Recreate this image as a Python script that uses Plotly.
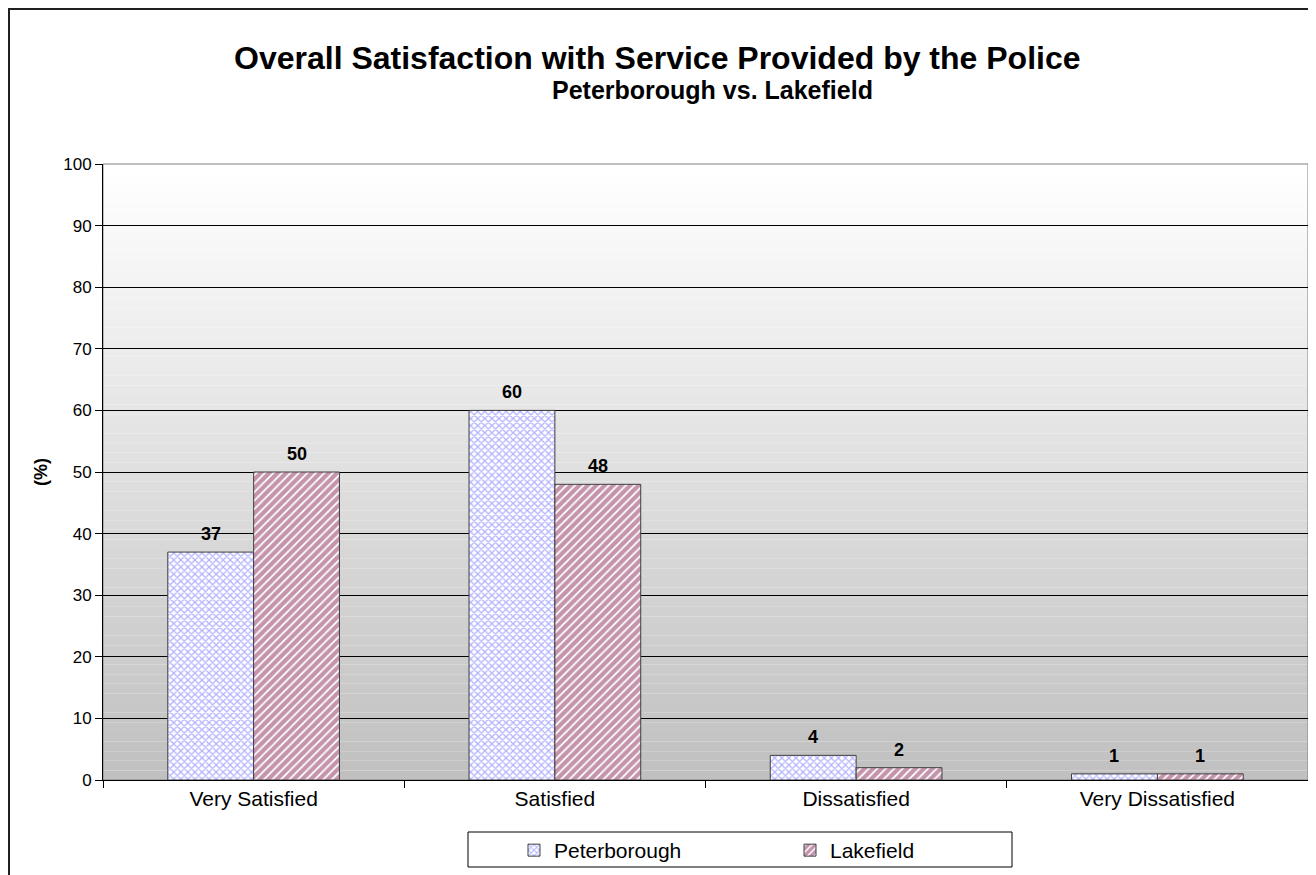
import plotly.graph_objects as go

categories = ["Very Satisfied", "Satisfied", "Dissatisfied", "Very Dissatisfied"]
peterborough = [37, 60, 4, 1]
lakefield = [50, 48, 2, 1]
y_ticks = list(range(0, 101, 10))

# the page body adds an 8px offset; lay the figure out relative to that
W, H = 1300, 867
L, R, T, B = 95, 0, 156, 95
pw, ph = W - L - R, H - T - B
REF_X0, REF_Y1 = 103, 780  # plot area in screen pixels


def px_x(p):
    return (p - REF_X0) / pw


def px_y(p):
    return (REF_Y1 - p) / ph


FONT = "Liberation Sans, Arial, sans-serif"

fig = go.Figure()
fig.add_trace(go.Bar(
    name="Peterborough", x=categories, y=peterborough,
    marker=dict(color="white", line=dict(color="#404040", width=1),
                pattern=dict(shape="x", fgcolor="#6666ff", bgcolor="white", size=5, solidity=0.45)),
))
fig.add_trace(go.Bar(
    name="Lakefield", x=categories, y=lakefield,
    marker=dict(color="white", line=dict(color="#404040", width=1),
                pattern=dict(shape="/", fgcolor="#8a2a5a", bgcolor="white", size=6, solidity=0.7)),
))

annotations = []
for vals, shift in ((peterborough, -43), (lakefield, 43)):
    for c, v in zip(categories, vals):
        annotations.append(dict(x=c, y=v, xref="x", yref="y", text=f"<b>{v}</b>", showarrow=False,
                                xanchor="center", yanchor="middle",
                                xshift=shift, yshift=18, font=dict(family=FONT, size=18, color="black")))

annotations += [
    dict(x=px_x(657), y=px_y(58), xref="paper", yref="paper", xanchor="center", yanchor="middle",
         text="<b>Overall Satisfaction with Service Provided by the Police</b>",
         showarrow=False, font=dict(family=FONT, size=32, color="black")),
    dict(x=px_x(712), y=px_y(90), xref="paper", yref="paper", xanchor="center", yanchor="middle",
         text="<b>Peterborough vs. Lakefield</b>",
         showarrow=False, font=dict(family=FONT, size=25, color="black")),
    dict(x=px_x(41), y=px_y(472), xref="paper", yref="paper", xanchor="center", yanchor="middle",
         text="<b>(%)</b>", textangle=-90,
         showarrow=False, font=dict(family=FONT, size=18, color="black")),
]

shapes = []
n = 64
for i in range(n):
    g = round(192 + (255 - 192) * (i + 0.5) / n)
    shapes.append(dict(type="rect", xref="x domain", yref="y domain", x0=0, x1=1, y0=i / n, y1=(i + 1) / n,
                       line=dict(width=0), fillcolor=f"rgb({g},{g},{g})", layer="below"))
shapes.append(dict(type="rect", xref="x domain", yref="y domain", x0=0, x1=1, y0=0, y1=1,
                   line=dict(color="#808080", width=1), fillcolor="rgba(0,0,0,0)", layer="below"))
# outer chart border
shapes.append(dict(type="rect", xref="paper", yref="paper", x0=px_x(9), x1=px_x(1340), y0=px_y(900), y1=px_y(9),
                   line=dict(color="#202020", width=2), fillcolor="rgba(0,0,0,0)", layer="above"))
# legend box
shapes.append(dict(type="rect", xref="paper", yref="paper", x0=px_x(468), x1=px_x(1012), y0=px_y(867), y1=px_y(832),
                   line=dict(color="black", width=1), fillcolor="white", layer="above"))

fig.update_layout(
    width=W, height=H,
    margin=dict(l=L, r=R, t=T, b=B, pad=0),
    paper_bgcolor="white", plot_bgcolor="rgba(0,0,0,0)",
    barmode="group", bargap=0.43, bargroupgap=0,
    font=dict(family=FONT, color="black"),
    showlegend=True,
    legend=dict(orientation="h", x=px_x(514), y=px_y(830), xanchor="left", yanchor="top",
                bgcolor="rgba(0,0,0,0)", borderwidth=0, font=dict(family=FONT, size=21, color="black"),
                entrywidth=231, entrywidthmode="pixels", traceorder="normal"),
    annotations=annotations, shapes=shapes,
)
fig.update_xaxes(showline=True, linecolor="black", linewidth=1, ticks="outside", tickson="boundaries",
                 ticklen=7, tickcolor="black", tickfont=dict(family=FONT, size=21), showgrid=False)
fig.update_yaxes(range=[0, 100], tickvals=y_ticks, showline=True, linecolor="black", linewidth=1,
                 ticks="outside", ticklen=7, tickcolor="black", tickfont=dict(family=FONT, size=17),
                 showgrid=True, gridcolor="black", gridwidth=1, zeroline=False)

fig.write_html("out.html")
